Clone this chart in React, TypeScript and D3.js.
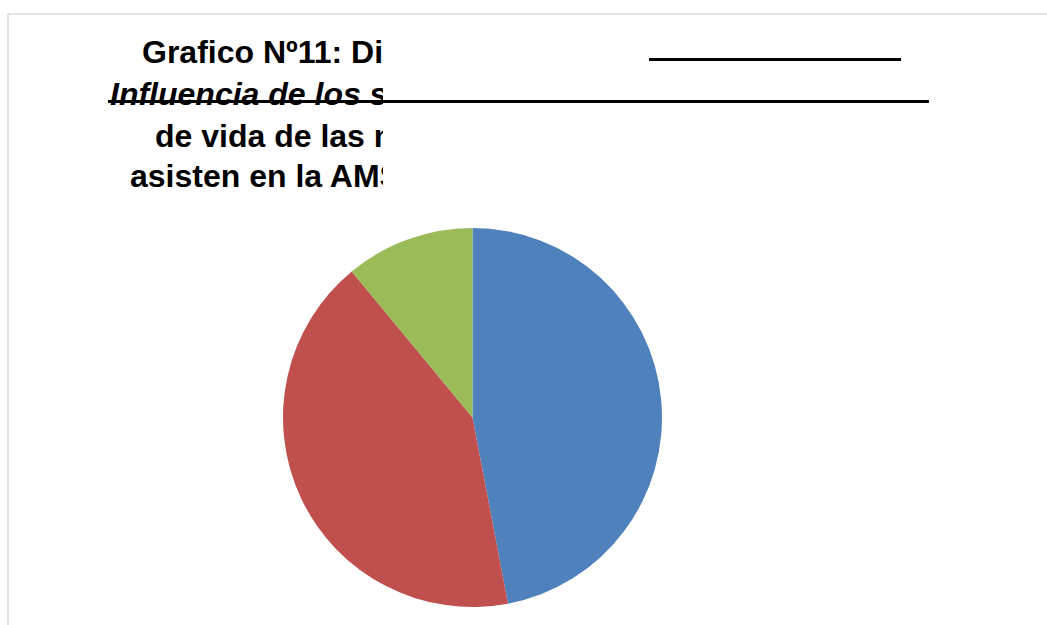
import React from "react";
import * as d3 from "d3";

const categories = ["Categoría 1", "Categoría 2", "Categoría 3"];
const values = [47, 42, 11];
const colors = ["#4F81BD", "#C0504D", "#9BBB59"];

const titleLines = [
  { text: "Grafico Nº11: Di", x: 142, y: 63, italic: false },
  { text: "Influencia de los s", x: 110, y: 105, italic: true },
  { text: "de vida de las m", x: 155, y: 147, italic: false },
  { text: "asisten en la AMS", x: 130, y: 187, italic: false },
];

export default function App() {
  const W = 1047;
  const H = 625;
  const cx = 472.5;
  const cy = 417.5;
  const r = 189.5;
  const pie = d3.pie<number>().sort(null).value((d) => d);
  const arcs = pie(values);
  const arc = d3.arc<d3.PieArcDatum<number>>().innerRadius(0).outerRadius(r);

  return (
    <svg
      width={W}
      height={H}
      style={{ position: "absolute", left: 0, top: 0, background: "#fff" }}
    >
      <defs>
        <clipPath id="titleClip">
          <rect x={0} y={0} width={383} height={220} />
        </clipPath>
      </defs>
      <rect x={0} y={0} width={W} height={H} fill="#fff" />
      <line x1={8} y1={14} x2={W} y2={14} stroke="#d9d9d9" strokeWidth={1.5} />
      <line x1={8} y1={14} x2={8} y2={H} stroke="#d9d9d9" strokeWidth={1.5} />
      <g clipPath="url(#titleClip)">
        {titleLines.map((l, i) => (
          <text
            key={i}
            x={l.x}
            y={l.y}
            fontFamily="'Liberation Sans', Arial, sans-serif"
            fontWeight="bold"
            fontStyle={l.italic ? "italic" : "normal"}
            fontSize={32}
            fill="#000"
          >
            {l.text}
          </text>
        ))}
      </g>
      <line x1={649} y1={59.5} x2={901} y2={59.5} stroke="#000" strokeWidth={3} />
      <line x1={108} y1={101.5} x2={929} y2={101.5} stroke="#000" strokeWidth={3} />
      <g transform={`translate(${cx},${cy})`}>
        {arcs.map((a, i) => (
          <path key={categories[i]} d={arc(a) || ""} fill={colors[i]} />
        ))}
      </g>
    </svg>
  );
}
